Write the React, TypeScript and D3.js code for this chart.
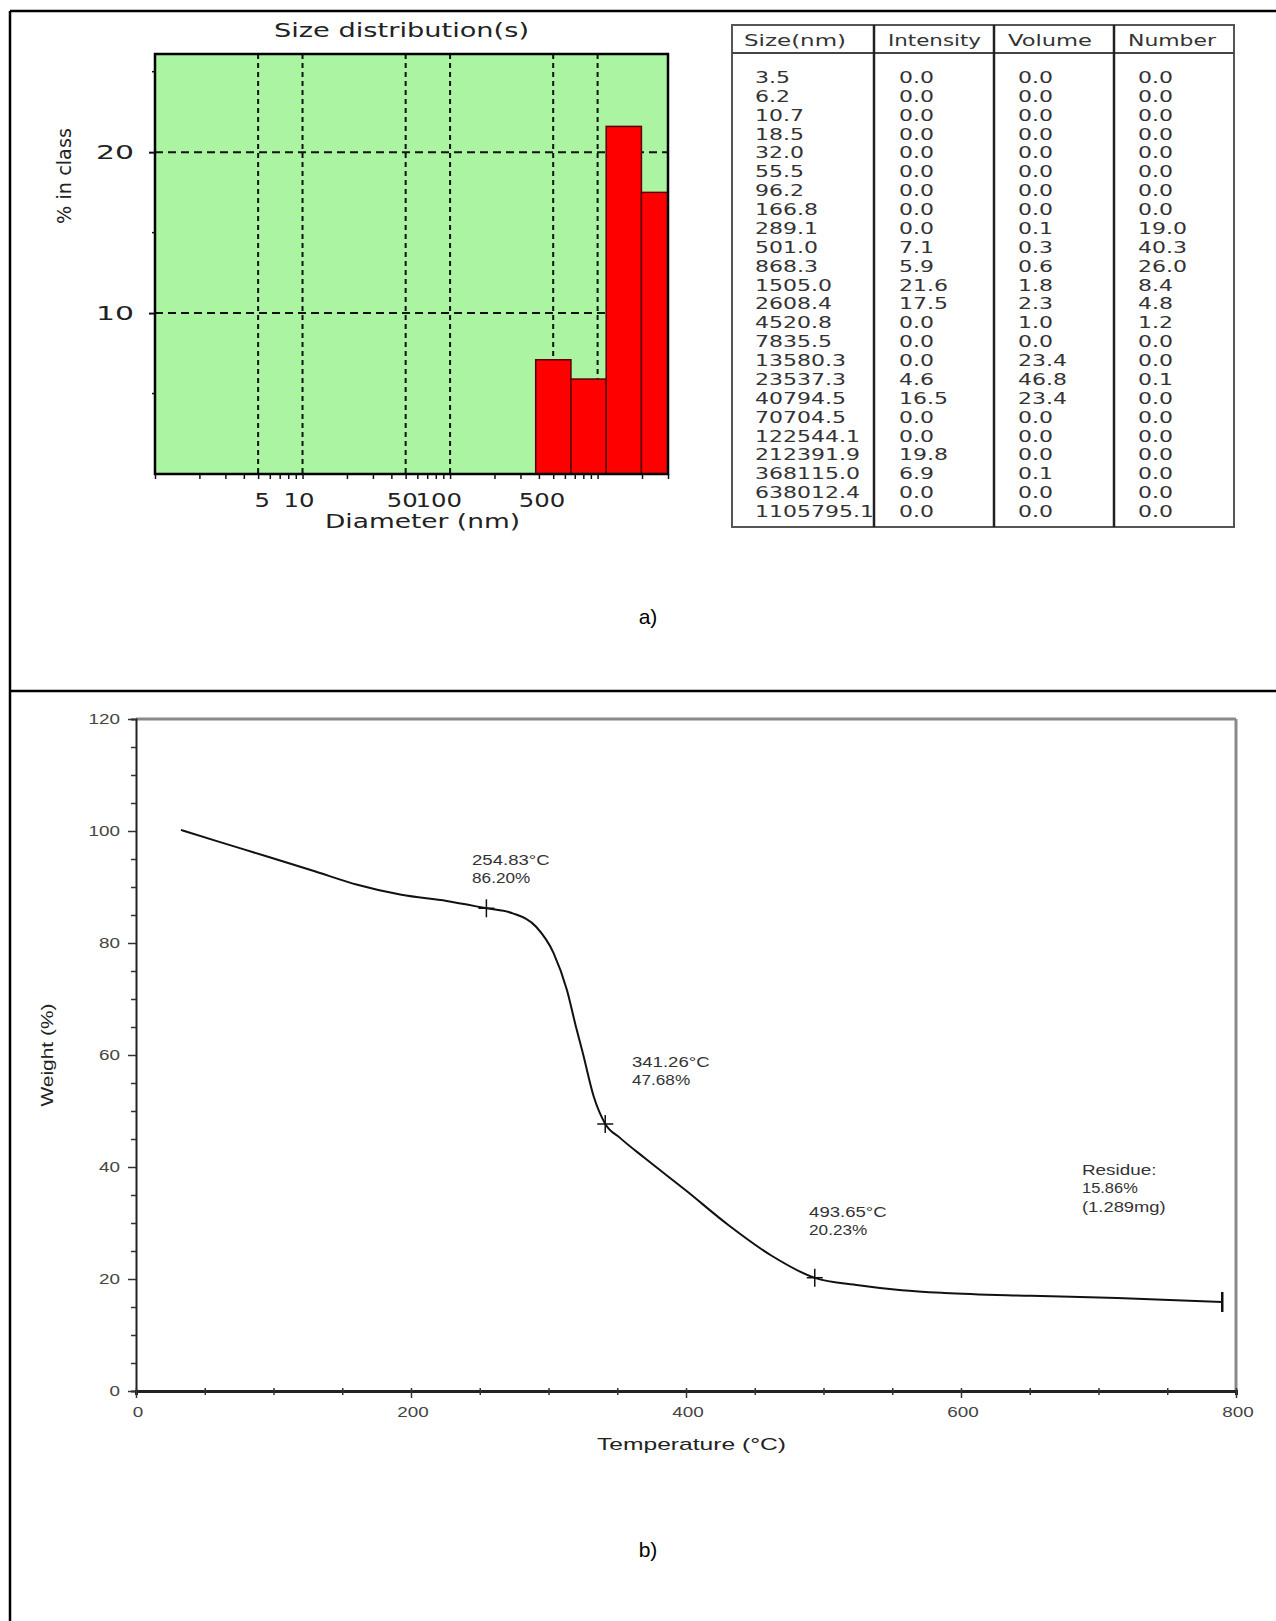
import { useEffect, useRef } from "react";
import * as d3 from "d3";

// ---- (a) size distribution table ----
const tableHeaders = ["Size(nm)", "Intensity", "Volume", "Number"];
const sizes = ["3.5", "6.2", "10.7", "18.5", "32.0", "55.5", "96.2", "166.8", "289.1", "501.0", "868.3", "1505.0", "2608.4", "4520.8", "7835.5", "13580.3", "23537.3", "40794.5", "70704.5", "122544.1", "212391.9", "368115.0", "638012.4", "1105795.1"];
const intensity = ["0.0", "0.0", "0.0", "0.0", "0.0", "0.0", "0.0", "0.0", "0.0", "7.1", "5.9", "21.6", "17.5", "0.0", "0.0", "0.0", "4.6", "16.5", "0.0", "0.0", "19.8", "6.9", "0.0", "0.0"];
const volume = ["0.0", "0.0", "0.0", "0.0", "0.0", "0.0", "0.0", "0.0", "0.1", "0.3", "0.6", "1.8", "2.3", "1.0", "0.0", "23.4", "46.8", "23.4", "0.0", "0.0", "0.0", "0.1", "0.0", "0.0"];
const numberPct = ["0.0", "0.0", "0.0", "0.0", "0.0", "0.0", "0.0", "0.0", "19.0", "40.3", "26.0", "8.4", "4.8", "1.2", "0.0", "0.0", "0.1", "0.0", "0.0", "0.0", "0.0", "0.0", "0.0", "0.0"];

// ---- (a) histogram axes ----
const diamDomain = [1, 3000];
const pctDomain = [0, 26.1];
const diamGrid = [5, 10, 50, 100, 500, 1000];
const diamLabels = [5, 10, 50, 100, 500];
const pctGrid = [10, 20];
const pctMinor = [5, 15, 25];

// ---- (b) TGA curve ----
const tgaTemp = [32.7, 60, 96, 130, 161, 193, 226, 254.8, 274, 291, 303.7, 313.4, 320, 325, 333, 341.3, 352, 370, 400, 431, 462, 493.7, 525.5, 557, 588, 651, 713.5, 790];
const tgaWeight = [100.2, 98.1, 95.4, 92.8, 90.4, 88.6, 87.5, 86.2, 85.3, 82.9, 78.2, 71.6, 65, 60.3, 52.5, 47.7, 45.2, 41.6, 35.8, 29.6, 24.2, 20.2, 18.9, 18, 17.5, 17, 16.6, 15.9];
const markTemp = [254.83, 341.26, 493.65];
const markWeight = [86.2, 47.68, 20.23];
const markLabels = [
  ["254.83°C", "86.20%"],
  ["341.26°C", "47.68%"],
  ["493.65°C", "20.23%"],
];
// label anchors in data units (temp, weight)
const markLabelAt = [
  [244.4, 93.9],
  [360.7, 57.9],
  [489.5, 31.1],
];
const residueLabel = ["Residue:", "15.86%", "(1.289mg)"];
const residueAt = [688, 38.6];
const endTemp = 790;
const endWeight = 15.9;
const tempTicks = [0, 200, 400, 600, 800];
const weightTicks = [0, 20, 40, 60, 80, 100, 120];

// rough text width of DejaVu-ish digits, stretched like the original scan
function numLen(s: string) {
  return s.split("").reduce((a, c) => a + (c === "." ? 0.318 : 0.636), 0) * 22;
}

function App() {
  const svgRef = useRef<SVGSVGElement | null>(null);
  const width = 1276;
  const height = 1621;

  useEffect(() => {
    const svg = d3.select(svgRef.current);
    svg.selectAll("*").remove();

    svg.append("rect").attr("width", width).attr("height", height).attr("fill", "white");

    // outer frame
    const frame = svg.append("g").attr("stroke", "black").attr("stroke-width", 2.5);
    frame.append("line").attr("x1", 10).attr("x2", width).attr("y1", 11).attr("y2", 11);
    frame.append("line").attr("x1", 10).attr("x2", 10).attr("y1", 11).attr("y2", height);
    frame.append("line").attr("x1", 10).attr("x2", width).attr("y1", 691).attr("y2", 691);

    // ================= (a) histogram =================
    const xA = d3.scaleLog().domain(diamDomain).range([155, 668]);
    const yA = d3.scaleLinear().domain(pctDomain).range([474, 54]);
    const pa = svg.append("g");
    const wideFont = "DejaVu Sans, sans-serif";

    pa.append("rect")
      .attr("x", xA(diamDomain[0]))
      .attr("y", yA(pctDomain[1]))
      .attr("width", xA(diamDomain[1]) - xA(diamDomain[0]))
      .attr("height", yA(0) - yA(pctDomain[1]))
      .attr("fill", "#aaf4a2");

    pa.selectAll(".vgrid")
      .data(diamGrid)
      .enter()
      .append("line")
      .attr("x1", (d) => xA(d))
      .attr("x2", (d) => xA(d))
      .attr("y1", yA(pctDomain[1]))
      .attr("y2", yA(0))
      .attr("stroke", "#111")
      .attr("stroke-width", 2)
      .attr("stroke-dasharray", "5,4");

    pa.selectAll(".hgrid")
      .data(pctGrid)
      .enter()
      .append("line")
      .attr("x1", xA(diamDomain[0]))
      .attr("x2", xA(diamDomain[1]))
      .attr("y1", (d) => yA(d))
      .attr("y2", (d) => yA(d))
      .attr("stroke", "#111")
      .attr("stroke-width", 2)
      .attr("stroke-dasharray", "8,5");

    svg.append("clipPath")
      .attr("id", "clipA")
      .append("rect")
      .attr("x", xA(diamDomain[0]))
      .attr("y", yA(pctDomain[1]))
      .attr("width", xA(diamDomain[1]) - xA(diamDomain[0]))
      .attr("height", yA(0) - yA(pctDomain[1]));

    const sizeNum = sizes.map((s) => +s);
    const bars = sizeNum
      .map((s, i) => ({ s, i, v: +intensity[i] }))
      .filter((d) => d.v > 0 && d.s < diamDomain[1]);
    pa.append("g")
      .attr("clip-path", "url(#clipA)")
      .selectAll("rect")
      .data(bars)
      .enter()
      .append("rect")
      .attr("x", (d) => xA(Math.sqrt(sizeNum[d.i - 1] * d.s)))
      .attr("width", (d) => xA(Math.sqrt(sizeNum[d.i + 1] * d.s)) - xA(Math.sqrt(sizeNum[d.i - 1] * d.s)))
      .attr("y", (d) => yA(d.v))
      .attr("height", (d) => yA(0) - yA(d.v))
      .attr("fill", "#ff0000")
      .attr("stroke", "#5a0000")
      .attr("stroke-width", 1.5);

    pa.append("rect")
      .attr("x", xA(diamDomain[0]))
      .attr("y", yA(pctDomain[1]))
      .attr("width", xA(diamDomain[1]) - xA(diamDomain[0]))
      .attr("height", yA(0) - yA(pctDomain[1]))
      .attr("fill", "none")
      .attr("stroke", "black")
      .attr("stroke-width", 2.5);

    // log minor ticks under the axis
    const logTicks: number[] = [];
    for (let e = 0; e <= 3; e++) {
      for (let m = 1; m <= 9; m++) {
        const v = m * Math.pow(10, e);
        if (v >= diamDomain[0] && v <= diamDomain[1]) logTicks.push(v);
      }
    }
    const xAxisA = pa.append("g")
      .attr("transform", `translate(0, ${yA(0)})`)
      .call(d3.axisBottom(xA).tickValues(logTicks).tickSize(5).tickFormat(() => ""));
    xAxisA.select(".domain").remove();
    xAxisA.selectAll("line").attr("stroke", "#111").attr("stroke-width", 1.5);

    const yAxisA = pa.append("g")
      .attr("transform", `translate(${xA(diamDomain[0])}, 0)`)
      .call(d3.axisLeft(yA).tickValues(pctGrid).tickSize(6).tickFormat(() => ""));
    yAxisA.select(".domain").remove();
    yAxisA.selectAll("line").attr("stroke", "#111").attr("stroke-width", 2);
    pa.selectAll(".yminor")
      .data(pctMinor)
      .enter()
      .append("line")
      .attr("x1", xA(diamDomain[0]) - 3)
      .attr("x2", xA(diamDomain[0]))
      .attr("y1", (d) => yA(d))
      .attr("y2", (d) => yA(d))
      .attr("stroke", "#111")
      .attr("stroke-width", 1.5);

    pa.selectAll(".ylab")
      .data(pctGrid)
      .enter()
      .append("text")
      .attr("x", 134)
      .attr("y", (d) => yA(d) + 7)
      .attr("text-anchor", "end")
      .attr("font-family", wideFont)
      .attr("font-size", 19)
      .attr("fill", "#222")
      .attr("textLength", (d) => String(d).length * 19)
      .attr("lengthAdjust", "spacingAndGlyphs")
      .text((d) => d);

    pa.selectAll(".xlab")
      .data(diamLabels)
      .enter()
      .append("text")
      .attr("x", (d) => xA(d) + 12)
      .attr("y", 507)
      .attr("text-anchor", "end")
      .attr("font-family", wideFont)
      .attr("font-size", 19)
      .attr("fill", "#222")
      .attr("textLength", (d) => String(d).length * 15.5)
      .attr("lengthAdjust", "spacingAndGlyphs")
      .text((d) => d);

    pa.append("text")
      .attr("x", 274)
      .attr("y", 37)
      .attr("font-family", wideFont)
      .attr("font-size", 19)
      .attr("fill", "#222")
      .attr("textLength", 255)
      .attr("lengthAdjust", "spacingAndGlyphs")
      .text("Size distribution(s)");

    pa.append("text")
      .attr("x", 325)
      .attr("y", 528)
      .attr("font-family", wideFont)
      .attr("font-size", 19)
      .attr("fill", "#222")
      .attr("textLength", 195)
      .attr("lengthAdjust", "spacingAndGlyphs")
      .text("Diameter (nm)");

    pa.append("text")
      .attr("transform", "translate(71, 176) rotate(-90)")
      .attr("text-anchor", "middle")
      .attr("font-family", wideFont)
      .attr("font-size", 19)
      .attr("fill", "#222")
      .attr("textLength", 96)
      .attr("lengthAdjust", "spacingAndGlyphs")
      .text("% in class");

    // ================= (a) table =================
    const tb = svg.append("g");
    const tLeft = 732, tRight = 1234, tTop = 25, tBottom = 527, tHead = 53;
    const colX = [tLeft, 874, 994, 1114];
    const headX = [744, 888, 1008, 1128];
    const headLen = [102, 93, 84, 88];
    const cellX = [755, 899, 1018, 1138];
    tb.append("rect")
      .attr("x", tLeft)
      .attr("y", tTop)
      .attr("width", tRight - tLeft)
      .attr("height", tBottom - tTop)
      .attr("fill", "none")
      .attr("stroke", "#555")
      .attr("stroke-width", 2);
    tb.append("line")
      .attr("x1", tLeft).attr("x2", tRight)
      .attr("y1", tHead).attr("y2", tHead)
      .attr("stroke", "#444").attr("stroke-width", 2);
    tb.selectAll(".col")
      .data(colX.slice(1))
      .enter()
      .append("line")
      .attr("x1", (d) => d).attr("x2", (d) => d)
      .attr("y1", tTop).attr("y2", tBottom)
      .attr("stroke", "#222").attr("stroke-width", 2.5);
    tb.selectAll(".head")
      .data(tableHeaders)
      .enter()
      .append("text")
      .attr("x", (d, i) => headX[i])
      .attr("y", 46)
      .attr("font-family", wideFont)
      .attr("font-size", 15)
      .attr("fill", "#333")
      .attr("textLength", (d, i) => headLen[i])
      .attr("lengthAdjust", "spacingAndGlyphs")
      .text((d) => d);

    const rowY = d3.scaleLinear().domain([0, sizes.length - 1]).range([83, 517]);
    [sizes, intensity, volume, numberPct].forEach((col, c) => {
      tb.selectAll(`.cell${c}`)
        .data(col)
        .enter()
        .append("text")
        .attr("x", cellX[c])
        .attr("y", (d, i) => rowY(i))
        .attr("font-family", wideFont)
        .attr("font-size", 15)
        .attr("fill", "#333")
        .attr("textLength", (d) => numLen(d))
        .attr("lengthAdjust", "spacingAndGlyphs")
        .text((d) => d);
    });

    svg.append("text")
      .attr("x", 648).attr("y", 624)
      .attr("text-anchor", "middle")
      .attr("font-family", "Liberation Sans, Arial, sans-serif")
      .attr("font-size", 21)
      .text("a)");

    // ================= (b) TGA =================
    const xB = d3.scaleLinear().domain([0, 800]).range([136, 1236]);
    const yB = d3.scaleLinear().domain([0, 120]).range([1391, 719]);
    const pb = svg.append("g");
    const smallFont = "Liberation Sans, Arial, sans-serif";

    pb.append("line")
      .attr("x1", xB(0)).attr("x2", xB(800))
      .attr("y1", yB(120)).attr("y2", yB(120))
      .attr("stroke", "#8a8a8a").attr("stroke-width", 3);
    pb.append("line")
      .attr("x1", xB(800)).attr("x2", xB(800))
      .attr("y1", yB(120)).attr("y2", yB(0))
      .attr("stroke", "#8a8a8a").attr("stroke-width", 3);

    const yAxisB = pb.append("g")
      .attr("transform", `translate(${xB(0)}, 0)`)
      .call(d3.axisLeft(yB).tickValues(d3.range(0, 121, 5)).tickSize(5).tickFormat(() => ""));
    yAxisB.select(".domain").attr("stroke", "#222").attr("stroke-width", 2);
    yAxisB.selectAll("line").attr("stroke", "#333").attr("stroke-width", 1.5);
    yAxisB.selectAll<SVGLineElement, number>(".tick line")
      .filter((d) => d % 20 === 0)
      .attr("x2", -8)
      .attr("stroke-width", 1.5);

    const xAxisB = pb.append("g")
      .attr("transform", `translate(0, ${yB(0)})`)
      .call(d3.axisBottom(xB).tickValues(d3.range(0, 801, 50)).tickSize(4).tickFormat(() => ""));
    xAxisB.select(".domain").attr("stroke", "#222").attr("stroke-width", 3);
    xAxisB.selectAll(".tick line").attr("y1", -3).attr("stroke", "#333").attr("stroke-width", 1.5);
    xAxisB.selectAll<SVGLineElement, number>(".tick line")
      .filter((d) => d % 200 === 0)
      .attr("y2", 7);

    pb.selectAll(".ylabB")
      .data(weightTicks)
      .enter()
      .append("text")
      .attr("x", 120)
      .attr("y", (d) => yB(d) + 5)
      .attr("text-anchor", "end")
      .attr("font-family", smallFont)
      .attr("font-size", 14)
      .attr("fill", "#444")
      .attr("textLength", (d) => String(d).length * 10.5)
      .attr("lengthAdjust", "spacingAndGlyphs")
      .text((d) => d);

    pb.selectAll(".xlabB")
      .data(tempTicks)
      .enter()
      .append("text")
      .attr("x", (d) => xB(d) + 2)
      .attr("y", 1417)
      .attr("text-anchor", "middle")
      .attr("font-family", smallFont)
      .attr("font-size", 14)
      .attr("fill", "#444")
      .attr("textLength", (d) => String(d).length * 10.5)
      .attr("lengthAdjust", "spacingAndGlyphs")
      .text((d) => d);

    pb.append("text")
      .attr("x", 597).attr("y", 1450)
      .attr("font-family", smallFont)
      .attr("font-size", 17)
      .attr("fill", "#222")
      .attr("textLength", 189)
      .attr("lengthAdjust", "spacingAndGlyphs")
      .text("Temperature (°C)");

    pb.append("text")
      .attr("transform", "translate(53, 1055) rotate(-90)")
      .attr("text-anchor", "middle")
      .attr("font-family", smallFont)
      .attr("font-size", 16)
      .attr("fill", "#222")
      .attr("textLength", 103)
      .attr("lengthAdjust", "spacingAndGlyphs")
      .text("Weight (%)");

    const curve = d3.line<number>()
      .x((d, i) => xB(tgaTemp[i]))
      .y((d) => yB(d))
      .curve(d3.curveMonotoneX);
    pb.append("path")
      .attr("d", curve(tgaWeight) as string)
      .attr("fill", "none")
      .attr("stroke", "#111")
      .attr("stroke-width", 2);

    // step markers (+)
    markTemp.forEach((t, i) => {
      const cx = xB(t), cy = yB(markWeight[i]);
      pb.append("line").attr("x1", cx).attr("x2", cx).attr("y1", cy - 9).attr("y2", cy + 9)
        .attr("stroke", "#111").attr("stroke-width", 1.5);
      pb.append("line").attr("x1", cx - 8).attr("x2", cx + 8).attr("y1", cy).attr("y2", cy)
        .attr("stroke", "#111").attr("stroke-width", 1.5);
      markLabels[i].forEach((s, k) => {
        pb.append("text")
          .attr("x", xB(markLabelAt[i][0]))
          .attr("y", yB(markLabelAt[i][1]) + k * 18)
          .attr("font-family", smallFont)
          .attr("font-size", 14)
          .attr("fill", "#333")
          .attr("textLength", s.length * 9.7)
          .attr("lengthAdjust", "spacingAndGlyphs")
          .text(s);
      });
    });
    pb.append("line")
      .attr("x1", xB(endTemp)).attr("x2", xB(endTemp))
      .attr("y1", yB(endWeight) - 10).attr("y2", yB(endWeight) + 10)
      .attr("stroke", "#111").attr("stroke-width", 2.5);

    residueLabel.forEach((s, k) => {
      pb.append("text")
        .attr("x", xB(residueAt[0]))
        .attr("y", yB(residueAt[1]) + k * 18.5)
        .attr("font-family", smallFont)
        .attr("font-size", 14)
        .attr("fill", "#333")
        .attr("textLength", s.length * 9.3)
        .attr("lengthAdjust", "spacingAndGlyphs")
        .text(s);
    });

    svg.append("text")
      .attr("x", 648).attr("y", 1557)
      .attr("text-anchor", "middle")
      .attr("font-family", "Liberation Sans, Arial, sans-serif")
      .attr("font-size", 21)
      .text("b)");
  }, []);

  return (
    <svg
      ref={svgRef}
      width={width}
      height={height}
      style={{ position: "absolute", left: 0, top: 0 }}
    ></svg>
  );
}

export default App;
